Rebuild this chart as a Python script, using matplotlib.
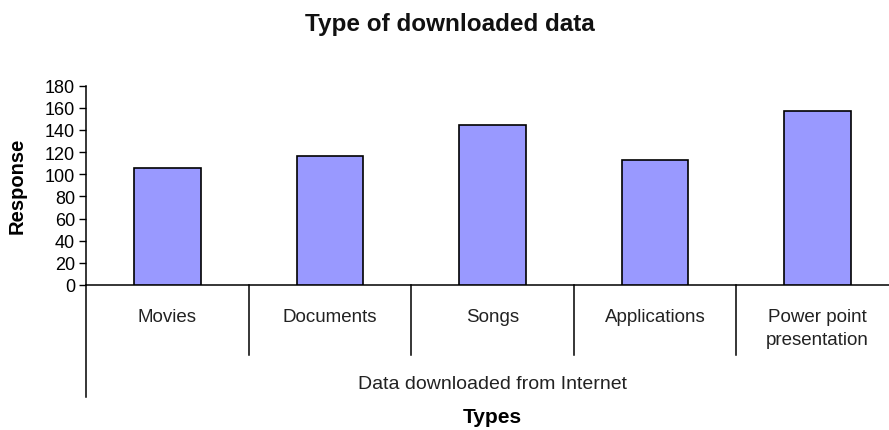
import numpy as np
import matplotlib.pyplot as plt
import matplotlib.transforms as mtransforms

categories = ["Movies", "Documents", "Songs", "Applications", "Power point\npresentation"]
responses = [106, 116, 144, 113, 157]
y_ticks = [0, 20, 40, 60, 80, 100, 120, 140, 160, 180]

plt.rcParams["font.family"] = ["Liberation Sans", "DejaVu Sans"]

W, H = 889, 431
fig = plt.figure(figsize=(W / 100, H / 100), dpi=100)
fig.patch.set_facecolor("white")

# axes box in pixel units (right edge runs past the figure, as the category axis does)
left, bottom, width, height = 86, 286, 813, 199.5
ax = fig.add_axes([left / W, (H - bottom) / H, width / W, height / H])

x = np.arange(len(categories))
ax.bar(x, responses, width=0.41, color="#9999ff", edgecolor="black", linewidth=1.2, zorder=3)

ax.set_xlim(-0.5, len(categories) - 0.5)
ax.set_ylim(0, 180)
ax.set_yticks(y_ticks)
ax.tick_params(axis="y", direction="out", length=5, width=1, labelsize=13, pad=3)
ax.set_xticks([])
for s in ["top", "right"]:
    ax.spines[s].set_visible(False)
ax.spines["left"].set_linewidth(1.1)
ax.spines["bottom"].set_linewidth(1.1)

# category dividers hanging below the axis
trans = mtransforms.blended_transform_factory(ax.transData, ax.transAxes)
for i in range(len(categories) + 1):
    xd = i - 0.5
    y_end = -0.56 if i == 0 else -0.35
    ax.plot([xd, xd], [0, y_end], color="black", lw=1.1, transform=trans, clip_on=False)

for i, name in enumerate(categories):
    ax.text(i, -0.115, name, transform=trans, ha="center", va="top", fontsize=13.5,
            linespacing=1.45, color="#222222")

ax.text(0.5, -0.495, "Data downloaded from Internet", transform=ax.transAxes,
        ha="center", va="center", fontsize=14, color="#222222")
fig.text(492 / W, 1 - 418 / H, "Types", ha="center", va="center", fontsize=15, fontweight="bold")
fig.text(17 / W, 1 - 186 / H, "Response", ha="center", va="center", rotation=90,
         fontsize=14.5, fontweight="bold")
fig.text(450 / W, 1 - 24 / H, "Type of downloaded data", ha="center", va="center",
         fontsize=17.5, fontweight="bold", color="#111111")

fig.savefig("out.png", dpi=100, facecolor="white")
